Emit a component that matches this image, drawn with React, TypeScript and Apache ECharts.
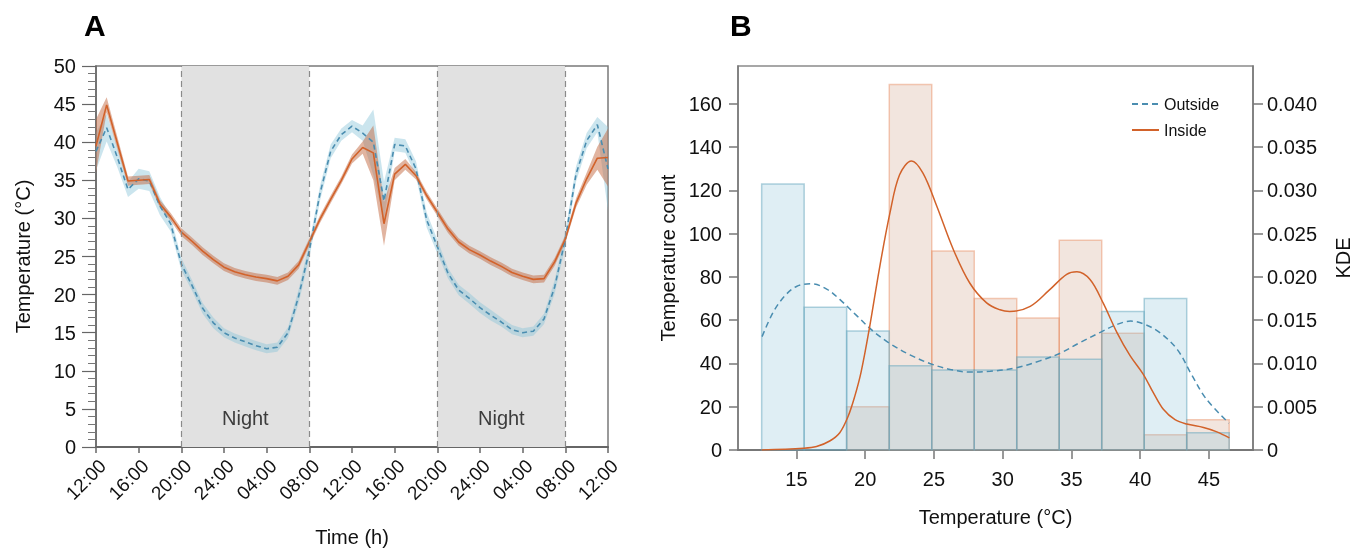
import React, { useEffect, useRef } from 'react';
import * as echarts from 'echarts';

const FONT = '"Liberation Sans", Arial, Helvetica, sans-serif';

// ---------- Panel A data (hourly, 0..48 h from 12:00) ----------
const hours = [0,1,2,3,4,5,6,7,8,9,10,11,12,13,14,15,16,17,18,19,20,21,22,23,24,25,26,27,28,29,30,31,32,33,34,35,36,37,38,39,40,41,42,43,44,45,46,47,48];
const timeLabels = ['12:00','16:00','20:00','24:00','04:00','08:00','12:00','16:00','20:00','24:00','04:00','08:00','12:00'];
const outsideMean = [38.8,41.9,38.0,33.8,35.2,34.9,31.6,29.3,24.0,21.2,18.2,16.3,15.0,14.3,13.8,13.3,12.9,13.1,15.0,19.8,25.8,33.3,38.8,41.0,42.1,41.2,40.0,32.3,39.7,39.5,36.5,29.8,26.3,22.8,20.6,19.5,18.3,17.3,16.4,15.4,15.0,15.2,16.8,21.0,27.3,35.8,40.2,42.3,36.5];
const outsideSpread = [2.5,1.8,1.3,1.0,1.3,1.3,1.2,1.0,0.8,0.7,0.7,0.7,0.6,0.6,0.6,0.6,0.6,0.6,0.7,0.9,1.0,1.0,0.9,0.8,0.8,1.0,4.3,2.5,0.9,0.9,1.0,1.0,0.9,0.7,0.7,0.7,0.7,0.7,0.6,0.6,0.6,0.6,0.7,0.9,1.0,1.0,1.0,1.0,5.5];
const insideMean = [39.5,44.9,39.9,34.9,35.0,35.1,31.9,30.2,28.2,27.0,25.7,24.6,23.6,23.0,22.6,22.3,22.1,21.8,22.4,23.9,26.9,29.9,32.5,35.0,37.8,39.3,38.6,29.3,35.8,37.1,35.6,33.0,30.8,28.6,26.9,25.9,25.2,24.4,23.7,22.9,22.4,22.0,22.1,24.3,27.3,32.0,35.2,37.9,38.0];
const insideSpread = [3.5,1.0,0.8,0.6,0.6,0.6,0.5,0.5,0.5,0.5,0.5,0.5,0.5,0.5,0.5,0.5,0.5,0.5,0.5,0.5,0.5,0.5,0.5,0.5,0.6,0.8,3.6,2.9,0.8,0.7,0.5,0.5,0.5,0.5,0.5,0.5,0.5,0.5,0.5,0.5,0.5,0.5,0.5,0.5,0.5,0.6,0.8,1.5,3.8];
const nightSpans = [[8, 20], [32, 44]];

// ---------- Panel B data ----------
const binEdges = [12.47,15.56,18.65,21.75,24.84,27.93,31.02,34.11,37.2,40.29,43.38,46.47];
const outsideCounts = [123,66,55,39,37,37,43,42,64,70,8];
const insideCounts = [0,0,20,169,92,70,61,97,54,7,14];
const outsideKdeT = [12.5,13.3,14.15,15.0,16.1,17.2,18.15,19.4,20.6,21.8,23.25,24.7,26.2,27.6,29.1,31.0,32.7,34.2,35.6,37.1,38.3,39.3,40.2,41.4,42.7,43.7,44.8,46.45];
const outsideKde = [0.0131,0.0159,0.0178,0.0189,0.0192,0.0186,0.0174,0.0155,0.0137,0.0123,0.0110,0.0100,0.0093,0.0090,0.0091,0.0095,0.0103,0.0112,0.0124,0.0136,0.0145,0.0149,0.0146,0.0136,0.0116,0.0088,0.0059,0.0031];
const insideKdeT = [12.47,15.5,16.46,17.42,18.15,18.76,19.24,19.7,20.33,21.06,21.8,22.5,23.37,24.2,25.2,26.4,27.6,28.83,29.8,30.5,32.0,33.4,34.65,35.4,36.35,37.3,38.3,39.26,40.2,40.96,41.68,42.53,43.38,44.6,45.57,46.48];
const insideKde = [0,0.0002,0.0004,0.00104,0.0020,0.0039,0.0062,0.0090,0.0143,0.0212,0.0274,0.0318,0.0334,0.0320,0.0282,0.0232,0.0193,0.0170,0.0162,0.0160,0.0166,0.0185,0.0203,0.0206,0.0197,0.0170,0.0136,0.0109,0.0088,0.0066,0.0047,0.0035,0.0030,0.0026,0.0021,0.0014];
const tempTicks = [15,20,25,30,35,40,45];
const countTicks = [0,20,40,60,80,100,120,140,160];
const kdeTicks = [0,0.005,0.01,0.015,0.02,0.025,0.03,0.035,0.04];

const BLUE_LINE = '#4a8db0';
const BLUE_BAND = 'rgba(140,198,218,0.45)';
const ORANGE_LINE = '#d2622a';
const ORANGE_BAND = 'rgba(195,105,65,0.5)';

function bandSeries(mean: number[], spread: number[], color: string) {
  return {
    type: 'custom',
    xAxisIndex: 0,
    yAxisIndex: 0,
    silent: true,
    z: 2,
    data: hours.map((h, i) => [h, mean[i]]),
    renderItem: (params: any, api: any) => {
      if (params.dataIndex !== 0) return null;
      const up = hours.map((h, i) => api.coord([h, mean[i] + spread[i]]));
      const lo = hours.map((h, i) => api.coord([h, mean[i] - spread[i]])).reverse();
      return { type: 'polygon', shape: { points: up.concat(lo) }, style: { fill: color } };
    },
  };
}

function histSeries(counts: number[], fill: string, stroke: string, z: number) {
  return {
    type: 'custom',
    xAxisIndex: 1,
    yAxisIndex: 1,
    silent: true,
    z,
    encode: { x: [0, 1], y: 2 },
    data: counts.map((c, i) => [binEdges[i], binEdges[i + 1], c]),
    renderItem: (params: any, api: any) => {
      const c = api.value(2);
      if (!c) return null;
      const p0 = api.coord([api.value(0), c]);
      const p1 = api.coord([api.value(1), 0]);
      return {
        type: 'rect',
        shape: { x: p0[0], y: p0[1], width: p1[0] - p0[0], height: p1[1] - p0[1] },
        style: { fill, stroke, lineWidth: 1.5 },
      };
    },
  };
}

export default function App() {
  const ref = useRef<HTMLDivElement>(null);
  useEffect(() => {
    if (!ref.current) return;
    const chart = echarts.init(ref.current, null, { renderer: 'svg' });
    const axisName = { fontSize: 20, color: '#111', fontFamily: FONT };
    const option: any = {
      animation: false,
      textStyle: { fontFamily: FONT },
      grid: [
        { left: 96, top: 66, width: 512, height: 384, show: true, borderColor: '#7a7a7a', borderWidth: 1.5 },
        { left: 738, top: 66, width: 515, height: 384, show: true, borderColor: '#8a8a8a', borderWidth: 1.5 },
      ],
      legend: {
        data: ['Outside', 'Inside'],
        orient: 'vertical',
        left: 1131,
        top: 96,
        padding: 0,
        itemWidth: 27,
        itemHeight: 14,
        itemGap: 10,
        itemStyle: { opacity: 0 },
        textStyle: { fontSize: 16, color: '#111', fontFamily: FONT },
      },
      graphic: [
        { type: 'text', left: 84, top: 10, style: { text: 'A', font: `bold 30px ${FONT}`, fill: '#000' } },
        { type: 'text', left: 730, top: 10, style: { text: 'B', font: `bold 30px ${FONT}`, fill: '#000' } },
      ],
      xAxis: [
        {
          type: 'value', gridIndex: 0, min: 0, max: 48, interval: 4,
          name: 'Time (h)', nameLocation: 'middle', nameGap: 80, nameTextStyle: axisName,
          axisLine: { show: true, onZero: false, lineStyle: { color: '#666', width: 2 } },
          axisTick: { show: true, length: 6, lineStyle: { color: '#666', width: 1.5 } },
          axisLabel: {
            rotate: 45, fontSize: 19, color: '#111', margin: 9, verticalAlign: 'top',
            formatter: (v: number) => timeLabels[Math.round(v / 4)],
          },
          splitLine: { show: false },
        },
        {
          type: 'value', gridIndex: 1, min: 10.75, max: 48.2,
          name: 'Temperature (°C)', nameLocation: 'middle', nameGap: 57, nameTextStyle: axisName,
          axisLine: { show: true, onZero: false, lineStyle: { color: '#777', width: 2 } },
          axisTick: { show: true, length: 9, customValues: tempTicks, lineStyle: { color: '#777', width: 1.5 } },
          axisLabel: { customValues: tempTicks, fontSize: 20, color: '#111', margin: 19 },
          splitLine: { show: false },
        },
      ],
      yAxis: [
        {
          type: 'value', gridIndex: 0, min: 0, max: 50, interval: 5,
          name: 'Temperature (°C)', nameLocation: 'middle', nameGap: 63, nameTextStyle: axisName,
          axisLine: { show: true, onZero: false, lineStyle: { color: '#666', width: 1.5 } },
          axisTick: { show: true, length: 14, lineStyle: { color: '#666', width: 1.2 } },
          minorTick: { show: true, splitNumber: 5, length: 8, lineStyle: { color: '#777', width: 1 } },
          axisLabel: { fontSize: 20, color: '#111', margin: 20 },
          splitLine: { show: false },
          minorSplitLine: { show: false },
        },
        {
          type: 'value', gridIndex: 1, min: 0, max: 177.5, position: 'left',
          name: 'Temperature count', nameLocation: 'middle', nameGap: 60, nameTextStyle: axisName,
          axisLine: { show: true, onZero: false, lineStyle: { color: '#777', width: 1.5 } },
          axisTick: { show: true, length: 9, customValues: countTicks, lineStyle: { color: '#777', width: 1.5 } },
          axisLabel: { customValues: countTicks, fontSize: 20, color: '#111', margin: 16 },
          splitLine: { show: false },
        },
        {
          type: 'value', gridIndex: 1, min: 0, max: 0.044375, position: 'right',
          name: 'KDE', nameLocation: 'middle', nameGap: 80, nameTextStyle: axisName,
          axisLine: { show: true, onZero: false, lineStyle: { color: '#777', width: 1.5 } },
          axisTick: { show: true, length: 10, customValues: kdeTicks, lineStyle: { color: '#777', width: 1.5 } },
          axisLabel: {
            customValues: kdeTicks, fontSize: 20, color: '#111', margin: 14,
            formatter: (v: number) => (v === 0 ? '0' : v.toFixed(3)),
          },
          splitLine: { show: false },
        },
      ],
      series: [
        {
          type: 'line', name: 'night', xAxisIndex: 0, yAxisIndex: 0, silent: true, z: 1,
          data: [[0, 0]], showSymbol: false, symbol: 'none', lineStyle: { opacity: 0 },
          markArea: {
            silent: true,
            itemStyle: { color: '#e1e1e1' },
            label: { show: true, position: 'insideBottom', distance: 19, fontSize: 20, color: '#3c3c3c', fontFamily: FONT },
            data: nightSpans.map(([a, b]) => [{ xAxis: a, name: 'Night' }, { xAxis: b }]),
          },
          markLine: {
            silent: true,
            symbol: ['none', 'none'],
            label: { show: false },
            lineStyle: { type: [6, 4], color: '#8a8a8a', width: 1.2 },
            data: nightSpans.flat().map((x) => ({ xAxis: x })),
          },
        },
        bandSeries(outsideMean, outsideSpread, BLUE_BAND),
        bandSeries(insideMean, insideSpread, ORANGE_BAND),
        {
          type: 'line', name: 'outsideTime', xAxisIndex: 0, yAxisIndex: 0, z: 3,
          data: hours.map((h, i) => [h, outsideMean[i]]), symbol: 'none',
          lineStyle: { color: BLUE_LINE, width: 1.6, type: [5, 3.5] },
        },
        {
          type: 'line', name: 'insideTime', xAxisIndex: 0, yAxisIndex: 0, z: 4,
          data: hours.map((h, i) => [h, insideMean[i]]), symbol: 'none',
          lineStyle: { color: ORANGE_LINE, width: 1.6 },
        },
        histSeries(insideCounts, 'rgba(205,150,125,0.25)', 'rgba(232,140,95,0.45)', 2),
        histSeries(outsideCounts, 'rgba(150,200,218,0.3)', 'rgba(100,165,190,0.5)', 3),
        {
          type: 'line', name: 'Outside', xAxisIndex: 1, yAxisIndex: 2, z: 5, smooth: 0.35,
          data: outsideKdeT.map((t, i) => [t, outsideKde[i]]), symbol: 'none',
          itemStyle: { color: BLUE_LINE },
          lineStyle: { color: BLUE_LINE, width: 1.5, type: [6, 4] },
        },
        {
          type: 'line', name: 'Inside', xAxisIndex: 1, yAxisIndex: 2, z: 6, smooth: 0.35,
          data: insideKdeT.map((t, i) => [t, insideKde[i]]), symbol: 'none',
          itemStyle: { color: ORANGE_LINE },
          lineStyle: { color: ORANGE_LINE, width: 1.5 },
        },
      ],
    };
    chart.setOption(option);
    return () => chart.dispose();
  }, []);
  return <div ref={ref} style={{ position: 'fixed', left: 0, top: 0, width: 1365, height: 552 }} />;
}
